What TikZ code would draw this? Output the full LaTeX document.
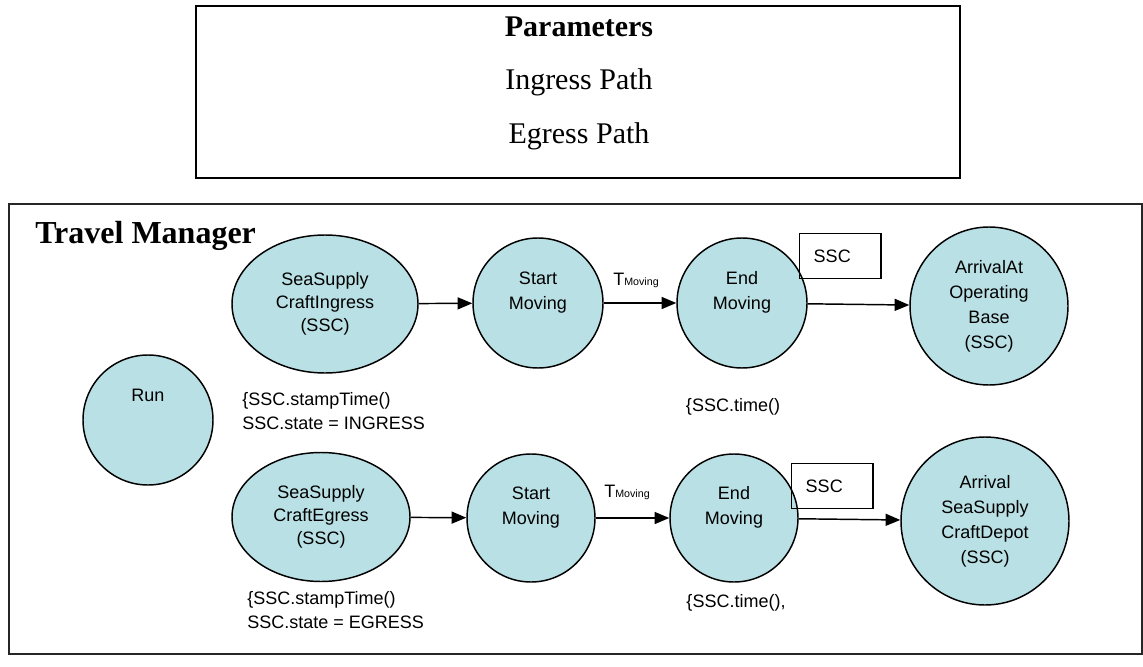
\documentclass[tikz,border=0pt]{standalone}
\usepackage{fontspec}
\setmainfont{Liberation Sans}
\newfontfamily\timesfont{Liberation Serif}
\usetikzlibrary{shapes.geometric}
\usetikzlibrary{arrows.meta}
\definecolor{statefill}{RGB}{185,224,228}

\tikzset{
  state/.style={circle, draw=black, fill=statefill, line width=1.1pt, inner sep=0pt,
    align=center, font=\fontsize{13.5}{18.75}\selectfont},
  stateoval/.style={ellipse, draw=black, fill=statefill, line width=1.1pt, inner sep=0pt,
    align=center, font=\fontsize{13.5}{17.5}\selectfont},
  flow/.style={line width=1.1pt, -{Triangle[length=11pt,width=9pt]}},
  argbox/.style={rectangle, draw=black, line width=1.1pt, minimum height=33.75pt,
    text width=40pt, inner xsep=10.5pt, align=left, font=\fontsize{13.5}{16}\selectfont},
  code/.style={align=left, inner sep=0pt, font=\fontsize{13.5}{17.5}\selectfont},
  delay/.style={inner sep=0pt, font=\fontsize{13.5}{16}\selectfont},
  heading/.style={inner sep=0pt, font=\timesfont\fontsize{22.5}{27}\selectfont}
}

\begin{document}
\begin{tikzpicture}[x=0.75pt,y=0.75pt,yscale=-1,xscale=1]
\useasboundingbox (0,0) rectangle (1143,667);

%Parameters box
\draw [line width=1.1pt] (196,6) rectangle (960,178) ;
% Text Node
\node [heading, anchor=base] (partitle) at (579,37) {\bfseries Parameters};
% Text Node
\node [heading, anchor=base] (ingresspath) at (579,90) {Ingress Path};
% Text Node
\node [heading, anchor=base] (egresspath) at (579,143) {Egress Path};

%Travel Manager box
\draw [color=black!85, line width=1.5pt] (9,204) rectangle (1142,654) ;
% Text Node
\node [heading, anchor=base west, font=\timesfont\fontsize{24}{28}\selectfont] (tmtitle) at (35,243) {\bfseries Travel Manager};

%States, ingress row
\node [stateoval, minimum width=139.5pt, minimum height=103.5pt] (ingress) at (325,304) {SeaSupply\\CraftIngress\\(SSC)};
\node [state, minimum size=97.5pt] (startA) at (538,303) {Start\\Moving\\\mbox{}};
\node [state, minimum size=97.5pt] (endA) at (742,303) {End\\Moving\\\mbox{}};
\node [state, minimum size=118.5pt] (arriveA) at (989,306) {ArrivalAt\\Operating\\Base\\(SSC)};

%Run
\node [state, minimum size=97.5pt] (run) at (148,420) {Run\\\mbox{}\\\mbox{}};

%States, egress row
\node [stateoval, minimum width=133.5pt, minimum height=96.75pt] (egress) at (321,517) {SeaSupply\\CraftEgress\\(SSC)};
\node [state, minimum size=96pt] (startB) at (531,518) {Start\\Moving\\\mbox{}};
\node [state, minimum size=96pt] (endB) at (734,518) {End\\Moving\\\mbox{}};
\node [state, minimum size=126pt] (arriveB) at (985,521) {Arrival\\SeaSupply\\CraftDepot\\(SSC)};

%Arguments
\node [argbox, anchor=north west] (argA) at (799,233) {SSC};
\node [argbox, anchor=north west] (argB) at (791,463) {SSC};

%Edges
\draw [flow] (ingress) -- (startA) ;
\draw [flow] (startA) -- (endA) ;
\draw [flow] (endA) -- (arriveA) ;
\draw [flow] (egress) -- (startB) ;
\draw [flow] (startB) -- (endB) ;
\draw [flow] (endB) -- (arriveB) ;

% Text Node
\node [delay] (delayA) at (636,280) {T{\fontsize{8}{8}\selectfont Moving}};
% Text Node
\node [delay] (delayB) at (627,492) {T{\fontsize{8}{8}\selectfont Moving}};

% Text Node
\node [code, anchor=west] (ingresscode) at (242,411) {\{SSC.stampTime()\\SSC.state = INGRESS};
% Text Node
\node [code, anchor=west] (egresscode) at (247,610) {\{SSC.stampTime()\\SSC.state = EGRESS};
% Text Node
\node [code] (endAcode) at (733,407) {\{SSC.time()};
% Text Node
\node [code] (endBcode) at (736,603) {\{SSC.time(),};

\end{tikzpicture}
\end{document}
